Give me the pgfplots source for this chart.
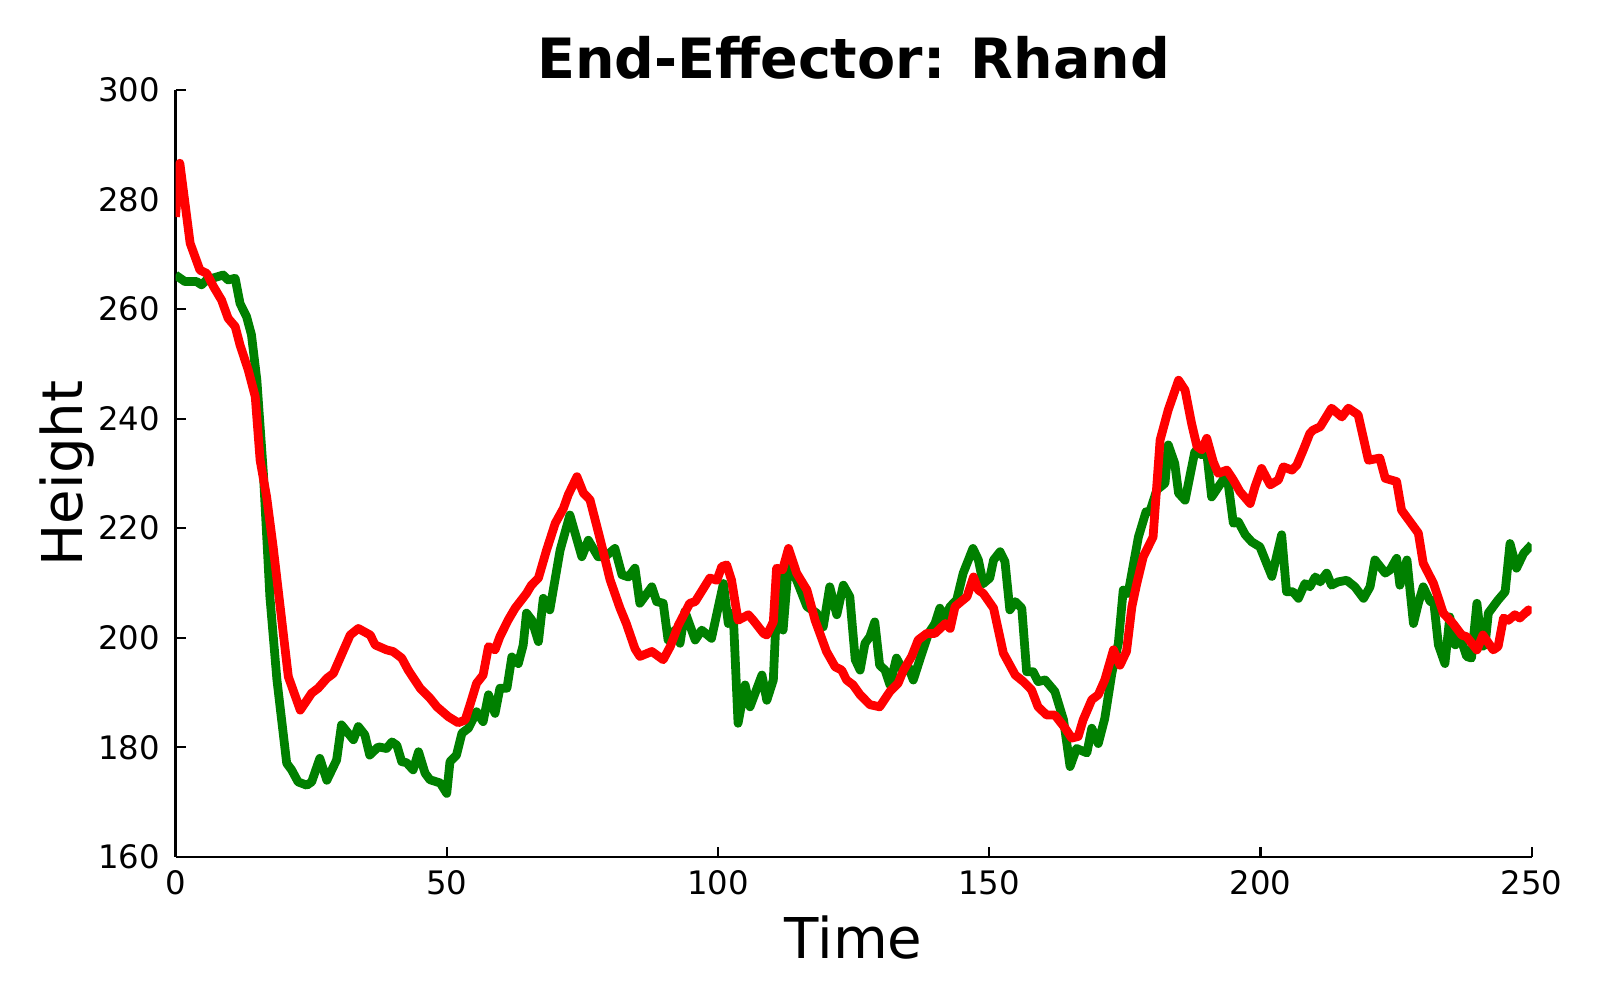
\documentclass[border=0pt]{standalone}
\usepackage{pgfplots}
\pgfplotsset{compat=1.18}
\usepackage{fontspec}
\setmainfont{DejaVu Sans}
\definecolor{mplgreen}{HTML}{008000}
\definecolor{mplred}{HTML}{FF0000}

\begin{document}
\begin{tikzpicture}
\path[use as bounding box] (-1.755,-1.43) rectangle (14.245,8.57);
\begin{axis}[
  scale only axis,
  width=13.562cm, height=7.672cm,
  at={(0,0)}, anchor=south west,
  xmin=0, xmax=250, ymin=160, ymax=300,
  xtick={0,50,...,250}, ytick={160,180,...,300},
  axis lines=left,
  axis line style={-, line width=0.8pt, black},
  tick align=inside,
  major tick length=0.1cm,
  major tick style={line width=0.6pt, black},
  /pgf/number format/assume math mode=true,
  ticklabel style={font=\fontsize{9.2}{11}\selectfont},
  xticklabel style={yshift=-0.01cm},
  yticklabel style={xshift=-0.03cm},
  title={End-Effector: Rhand},
  title style={at={(axis description cs:0.5,1)}, anchor=base, yshift=-0.1cm, inner sep=0pt,
    font=\bfseries\fontsize{15.8}{19}\selectfont},
  xlabel={Time},
  xlabel style={at={(axis description cs:0.5,0)}, anchor=base, yshift=-1.02cm,
    inner sep=0pt, font=\fontsize{16}{19}\selectfont},
  ylabel={Height},
  ylabel style={at={(axis description cs:-0.0689,0.5)}, anchor=base,
    inner sep=0pt, font=\fontsize{16}{19}\selectfont},
]
% green series
\addplot[mplgreen, line width=2.5pt, line join=round] coordinates {
(0,266.2) (1.75,265) (3.9,265) (4.8,264.4) (5.75,265.3) (8.8,266.2) (9.7,265.3)
(11,265.6) (11.9,261) (13.1,258.6) (14,255.3) (15,247) (16.2,230) (17.4,207.5)
(18.7,192.3) (20.5,177.1) (21.4,175.9) (22.6,173.7) (24.2,173.1) (25.1,173.7)
(26.6,178) (27.9,174) (29.7,177.7) (30.6,184.1) (32.8,181.4) (33.7,183.8)
(34.9,182.3) (35.8,178.6) (37.4,180.1) (38.9,179.8) (39.9,181) (40.8,180.4)
(41.7,177.4) (42.6,177.2) (43.8,175.9) (44.8,179.2) (46,175.3) (46.9,174.1)
(48.8,173.5) (50,171.6) (50.6,177.4) (51.8,178.6) (52.8,182.6) (54,183.5)
(55.5,186.5) (56.7,184.7) (57.7,189.6) (58.9,186.2) (59.8,190.8) (61.1,190.8)
(62,196.5) (63.2,195.3) (64.1,198.7) (64.7,204.5) (65.7,203.2) (66.9,199.3)
(67.8,207.2) (69,205.1) (70.9,216) (72.7,222.4) (74.9,214.8) (76.1,217.8)
(77.9,214.8) (79.2,214.8) (81,216.3) (82.3,211.5) (83.5,211.1) (84.7,212.7)
(85.6,206.3) (87.8,209.3) (88.7,206.6) (89.9,206.3) (90.8,199.6) (92.1,201.4)
(93,199) (93.9,204.8) (95.8,199.6) (97,201.4) (98.8,199.9) (101,209.9)
(101.9,202.6) (102.8,204.5) (103.7,184.4) (105,191.4) (105.9,187.4) (108.1,193.2)
(109,188.6) (110.2,192.3) (111.1,212.4) (112,201.4) (113,213.6) (114.5,210.5)
(116.4,205.7) (118.2,204.5) (119.4,202) (120.6,209.3) (121.9,204.2) (123.1,209.6)
(124.3,207.5) (125.3,196) (126.2,194.1) (127.1,199) (128,200.2) (128.9,202.9)
(129.8,195) (130.8,194.1) (131.7,191.4) (132.9,196.3) (134.2,193.8) (135.1,194.7)
(136,192.3) (137.2,196) (138.8,200.8) (140,202.6) (140.9,205.4) (141.5,203.2)
(142.8,205.7) (144,206.9) (145.2,211.8) (147,216.3) (148,214.2) (148.9,209.9)
(150.1,210.9) (150.8,214.2) (152,215.7) (152.9,213.9) (153.8,205.1) (154.8,206.6)
(156,205.4) (156.9,193.8) (158.1,193.8) (159,192) (160.3,192.3) (162.1,190.2)
(163.7,185) (164.9,176.5) (166.1,179.8) (168,179) (168.9,183.5) (170.1,180.7)
(171.3,185.3) (172.6,193.5) (173.8,199) (174.7,208.7) (175.6,208.1) (177.5,218.4)
(178.9,223) (179.6,223) (180.9,227) (182.4,228.2) (183,235.2) (184.2,231.8)
(184.9,226.4) (186.1,225.1) (187.9,234) (189.2,233.4) (190.1,233.7) (191,225.7)
(192.9,228.5) (193.8,230) (195,220.9) (195.9,221.2) (197.2,218.8) (198.4,217.5)
(199.9,216.6) (202.1,211.2) (203.9,218.8) (204.8,208.4) (206,208.4) (207,207.2)
(208.2,209.9) (209.1,209.3) (210.1,211.1) (211,210.2) (212.2,211.8) (213.1,209.6)
(214.3,210.2) (215.9,210.5) (217.4,209.3) (219,207.2) (220.2,209.3) (221.1,214.2)
(223,211.8) (223.9,212.4) (225.1,214.5) (225.7,209.6) (227,214.2) (228.2,202.6)
(229.1,206.3) (230,209.3) (231.3,206.6) (231.9,206.9) (232.8,198.7) (234,195.3)
(234.9,203.8) (235.9,198.7) (236.8,200.2) (238,196.6) (238.9,196.3) (239.9,206.3)
(240.8,198.4) (241.4,198.7) (242,204.5) (243.8,206.9) (245.1,208.4) (246,217.2)
(247.2,212.7) (248.5,215.4) (250,217)
};
% red series
\addplot[mplred, line width=2.5pt, line join=round] coordinates {
(0,276.8) (0.8,286.6) (2.7,272) (4.5,267.1) (5.75,266.5) (7,264.1) (8.5,261.6)
(9.7,258.3) (11,256.8) (11.9,253.4) (13.4,248.9) (14.7,244) (15.6,232.4)
(16.8,225.7) (18,216.6) (20.8,192.9) (23,186.8) (25.1,189.9) (26.3,190.8)
(27.9,192.6) (29.1,193.5) (30.6,196.9) (32.2,200.5) (33.7,201.7) (35.9,200.5)
(36.8,198.7) (38.9,197.8) (40.1,197.5) (41.7,196.3) (42.9,194.1) (45.1,190.8)
(46.9,189) (48.2,187.4) (50.3,185.6) (52.1,184.5) (53.4,185) (54.3,187.8)
(55.5,191.7) (56.7,193.2) (57.7,198.4) (58.9,197.8) (59.8,200.2) (61.3,203.2)
(62.6,205.4) (64.7,208.1) (65.6,209.6) (66.9,210.9) (68.4,216) (70,220.9)
(71.5,223.6) (72.4,226.1) (74,229.4) (75.2,226.4) (76.4,225.2) (78.3,217.9)
(80.1,210.6) (81.9,205.5) (83.1,202.6) (84.7,198) (85.6,196.6) (87.8,197.5)
(89.9,196) (91.2,198.4) (92.7,202.3) (94.8,206.3) (95.8,206.6) (98.5,210.9)
(99.8,210.5) (100.7,213) (101.6,213.3) (102.5,210.5) (103.7,203.2) (105.6,204.2)
(106.5,203.2) (108.4,200.8) (109,200.5) (110.2,202.9) (110.8,212.7) (111.9,212.4)
(113,216.3) (114.5,211.8) (116.4,208.7) (117.9,203.2) (120,197.5) (121.6,194.7)
(122.8,194.1) (123.7,192.3) (124.9,191.4) (126.2,189.6) (128,187.8) (129.8,187.4)
(131.7,190.2) (133.2,191.7) (134.2,194.1) (135.7,196.6) (136.9,199.6) (138.5,200.8)
(140,200.8) (141.9,202.6) (142.8,201.7) (143.7,205.7) (145.9,207.5) (147.1,211.1)
(148,208.7) (148.9,208.1) (150.8,205.4) (152.6,197.2) (154.8,193.2) (156.3,192)
(157.8,190.5) (159,187.4) (160.6,185.9) (162.1,185.9) (164,183.5) (165.2,181.7)
(166.4,182) (167.3,185) (168.9,188.7) (170.1,189.6) (171.3,192.3) (172.9,197.8)
(174.1,195) (175.3,197.5) (176.3,205.7) (177.2,209.9) (178.4,214.8) (180.2,218.4)
(181.5,236.1) (183,241.6) (184.9,247) (186.1,245.2) (187.3,239.1) (188.3,234.9)
(189.2,234.3) (190.1,236.4) (191.3,232.1) (192.2,230) (193.8,230.6) (195,228.8)
(196.2,226.7) (198.1,224.5) (199,227.6) (200.2,230.9) (201.8,227.9) (203.3,228.8)
(204.2,231.2) (205.8,230.6) (206.7,231.5) (207.9,234.3) (209.1,237.3) (209.7,237.9)
(211,238.5) (213.1,241.9) (215,240.3) (216.2,241.9) (218,240.7) (219.9,232.4)
(222,232.8) (223,229.1) (225.1,228.5) (226,223.3) (229.1,219.1) (230,213.6)
(231.9,209.9) (233.7,204.5) (235.5,202.6) (237.1,200.5) (238,200.2) (239.9,197.8)
(241,200.5) (242.9,197.8) (243.8,198.4) (244.8,203.6) (245.7,203.2) (246.9,204.2)
(247.8,203.6) (249.4,205.1) (250,204.5)
};
\end{axis}
\end{tikzpicture}
\end{document}
